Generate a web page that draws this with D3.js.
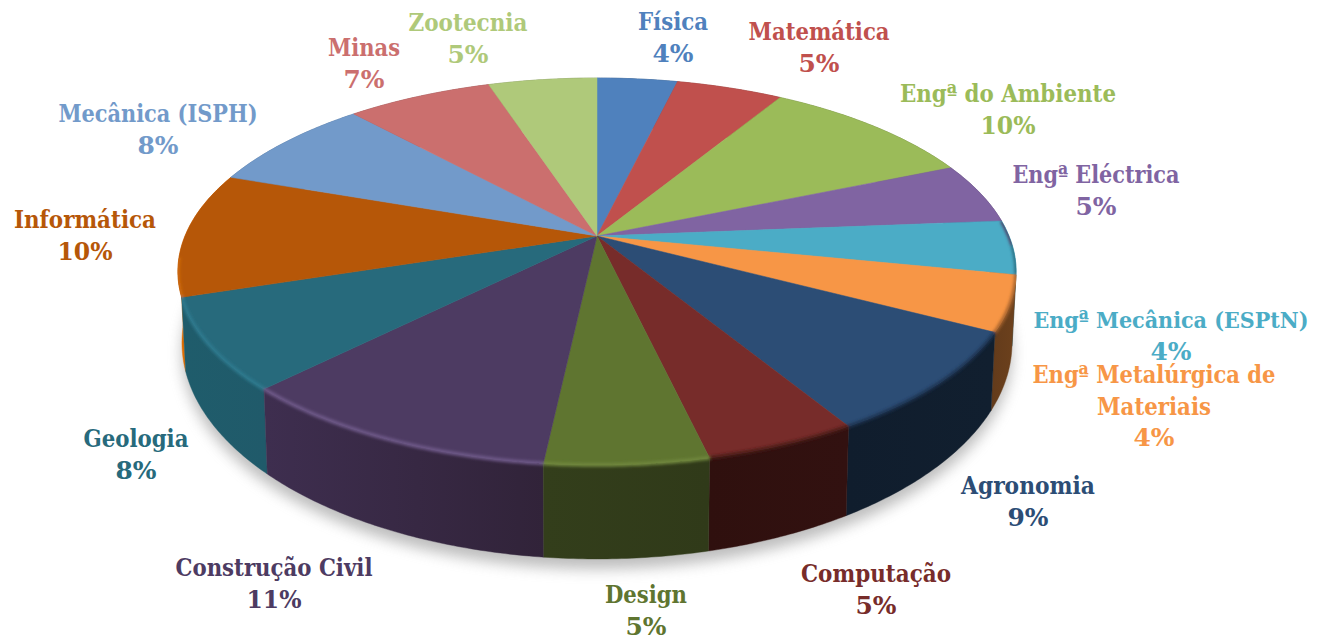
<!DOCTYPE html>
<html>
<head>
<meta charset="utf-8">
<script src="https://cdn.jsdelivr.net/npm/d3@7"></script>
<style>
  html, body { margin: 0; background: #fff; }
  text { font-family: "DejaVu Serif Condensed", "DejaVu Serif", serif; font-weight: bold; }
</style>
</head>
<body>
<div id="chart"></div>
<script>
const categories = ["Física", "Matemática", "Engª do Ambiente", "Engª Eléctrica", "Engª Mecânica (ESPtN)",
    "Engª Metalúrgica de Materiais", "Agronomia", "Computação", "Design", "Construção Civil",
    "Geologia", "Informática", "Mecânica (ISPH)", "Minas", "Zootecnia"];
// slice sizes, the printed labels are rounded differently
const values = [3.7, 4.9, 10.0, 5.1, 4.5, 4.6, 8.6, 5.0, 5.3, 10.7, 7.6, 10.4, 7.9, 6.7, 5.0];
const percentLabels = ["4%", "5%", "10%", "5%", "4%", "4%", "9%", "5%", "5%", "11%", "8%", "10%", "8%", "7%", "5%"];

const topColors = ["#4f81bd", "#c0504d", "#9bbb59", "#8064a2", "#4bacc6", "#f79646", "#2c4d75", "#772c2a",
    "#5f7530", "#4d3b62", "#276a7c", "#b65708", "#729aca", "#cb6f6e", "#afc97a"];
const wallStart = ["#2f4d71", "#732f2d", "#5d7035", "#4c3c61", "#2d6f82", "#6b401c", "#111f2f", "#321110",
    "#303a19", "#312339", "#205a6a", "#e06d00", "#44648a", "#7a4342", "#6a7a4a"];
const wallEnd = ["#2f4d71", "#732f2d", "#5d7035", "#4c3c61", "#1d5565", "#633b1b", "#101d2d", "#2f100e",
    "#333e1b", "#3e2e4f", "#1f5c6b", "#d96a00", "#44648a", "#7a4342", "#6a7a4a"];
const rimColors = ["none", "none", "none", "#4e3d63", "#2a6d80", "#a5622b", "#1a3050", "#481a18",
    "#71883e", "#6f5a8a", "#2d7a8f", "#d06c10", "none", "none", "none"];

// label centre x and first baseline
const labelX = [673, 819, 1008, 1096, 1171, 1154, 1028, 876, 646, 274, 136, 85, 158, 364, 468];
const labelY = [30, 40, 102, 183, 328, 383, 494, 582, 603, 576, 447, 228, 122, 56, 31];
// drawn width of the names in the picture
const labelWidths = [70, 141, 216, 167, 276, 243, 134, 150, 82, 197, 105, 142, 199, 72, 119];
const lineStep = 31.5;

const width = 1318, height = 639;

const svg = d3.select("#chart").append("svg")
    .attr("width", width)
    .attr("height", height)
    .style("display", "block");

const defs = svg.append("defs");
defs.append("filter").attr("id", "shadowBlur")
    .attr("x", "-10%").attr("y", "-10%").attr("width", "120%").attr("height", "120%")
    .append("feGaussianBlur").attr("stdDeviation", 7);
defs.append("filter").attr("id", "rimBlur")
    .attr("filterUnits", "userSpaceOnUse")
    .attr("x", 0).attr("y", 0).attr("width", width).attr("height", height)
    .append("feGaussianBlur").attr("stdDeviation", 1.5);

// the disc is seen in perspective, so the apex is not the centre of the ellipse
const k = 0.1835;
const topPlane = { cx: 597, cy: 236, rx: 412, ry: 187 };
const basePlane = { cx: 597, cy: 303, rx: 408, ry: 209 };

function project(plane, angle) {
    const u = Math.sin(angle), v = -Math.cos(angle), w = 1 - k * v;
    return [plane.cx + plane.rx * u / w, plane.cy + plane.ry * v / w];
}

function arcPoints(plane, a0, a1) {
    const n = Math.max(2, Math.ceil(Math.abs(a1 - a0) / 0.01));
    return d3.range(n + 1).map(i => project(plane, a0 + (a1 - a0) * i / n));
}

const line = d3.line();
const pie = d3.pie().sort(null).value(d => d);
const arcs = pie(values);

const clip = defs.append("clipPath").attr("id", "discClip");

// shadow under the base
svg.append("path")
    .attr("d", line(arcPoints(basePlane, 0, 2 * Math.PI)) + "Z")
    .attr("transform", "translate(0,10)")
    .attr("fill", "#8a8a8a")
    .attr("opacity", 0.56)
    .attr("filter", "url(#shadowBlur)");

// walls, the ones nearest the viewer last
const order = d3.range(arcs.length).sort((a, b) => {
    const mid = i => (arcs[i].startAngle + arcs[i].endAngle) / 2;
    return Math.abs(mid(b) - Math.PI) - Math.abs(mid(a) - Math.PI);
});

order.forEach(i => {
    const d = arcs[i];
    const p0 = project(basePlane, d.endAngle), p1 = project(basePlane, d.startAngle);
    const grad = defs.append("linearGradient")
        .attr("id", "wall" + i)
        .attr("gradientUnits", "userSpaceOnUse")
        .attr("x1", p0[0]).attr("y1", 0)
        .attr("x2", p1[0]).attr("y2", 0);
    grad.append("stop").attr("offset", 0).attr("stop-color", wallEnd[i]);
    grad.append("stop").attr("offset", 1).attr("stop-color", wallStart[i]);

    const pts = arcPoints(topPlane, d.startAngle, d.endAngle)
        .concat(arcPoints(basePlane, d.endAngle, d.startAngle));
    svg.append("path")
        .attr("d", line(pts) + "Z")
        .attr("fill", "url(#wall" + i + ")")
        .attr("stroke", "url(#wall" + i + ")")
        .attr("stroke-width", 0.4);
    clip.append("path").attr("d", line(pts) + "Z");
});
clip.append("path").attr("d", line(arcPoints(topPlane, 0, 2 * Math.PI)) + "Z");

// top face
svg.append("g").selectAll("path")
    .data(arcs)
    .join("path")
    .attr("d", d => line([[topPlane.cx, topPlane.cy]].concat(arcPoints(topPlane, d.startAngle, d.endAngle))) + "Z")
    .attr("fill", (d, i) => topColors[i])
    .attr("stroke", (d, i) => topColors[i])
    .attr("stroke-width", 0.5);

// soft rim along the front edge, kept inside the disc
const rim = svg.append("g")
    .attr("clip-path", "url(#discClip)")
    .append("g")
    .attr("filter", "url(#rimBlur)");
arcs.forEach((d, i) => {
    if (rimColors[i] === "none") return;
    const a0 = Math.max(d.startAngle, 1.62), a1 = Math.min(d.endAngle, 4.6);
    rim.append("path")
        .attr("d", line(arcPoints(topPlane, a0, a1)))
        .attr("fill", "none")
        .attr("stroke", rimColors[i])
        .attr("stroke-width", 3.5);
});

// labels
const labels = svg.append("g").attr("text-anchor", "middle").attr("font-size", 24);
categories.forEach((name, i) => {
    // only this long name wraps in the picture
    const wrapped = name === "Engª Metalúrgica de Materiais";
    const lines = wrapped ? ["Engª Metalúrgica de", "Materiais", percentLabels[i]] : [name, percentLabels[i]];
    lines.forEach((t, j) => {
        const text = labels.append("text")
            .attr("x", labelX[i])
            .attr("y", labelY[i] + j * lineStep)
            .attr("fill", topColors[i])
            .attr("lengthAdjust", "spacingAndGlyphs")
            .text(t);
        // this one reaches the right edge, so it stays at its natural width
        if (name === "Engª Mecânica (ESPtN)" && j === 0) text.attr("font-size", 23);
        else if (j === 0) text.attr("textLength", labelWidths[i]);
        else if (wrapped && j === 1) text.attr("textLength", 114);
        else text.attr("textLength", t.length === 3 ? 55 : 41);
    });
});
</script>
</body>
</html>
